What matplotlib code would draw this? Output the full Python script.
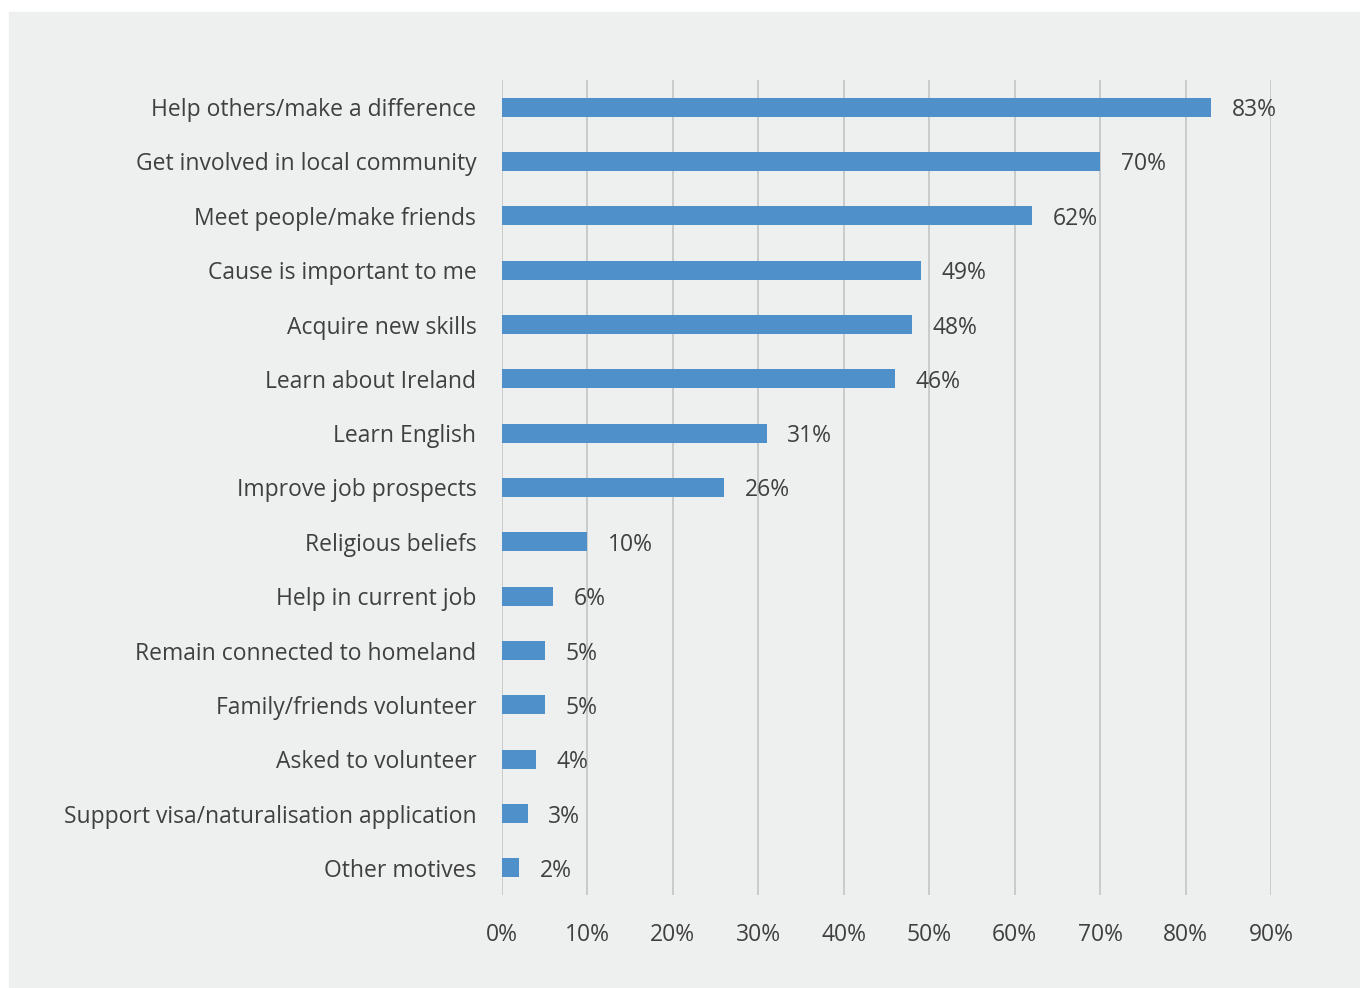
import matplotlib.pyplot as plt
from matplotlib.patches import Rectangle
from matplotlib.transforms import ScaledTranslation

categories = [
    "Help others/make a difference",
    "Get involved in local community",
    "Meet people/make friends",
    "Cause is important to me",
    "Acquire new skills",
    "Learn about Ireland",
    "Learn English",
    "Improve job prospects",
    "Religious beliefs",
    "Help in current job",
    "Remain connected to homeland",
    "Family/friends volunteer",
    "Asked to volunteer",
    "Support visa/naturalisation application",
    "Other motives",
]
values = [83, 70, 62, 49, 48, 46, 31, 26, 10, 6, 5, 5, 4, 3, 2]
x_ticks = [0, 10, 20, 30, 40, 50, 60, 70, 80, 90]

BG = "#eeefef"
BAR = "#4f8fca"
TEXT = "#404040"
GRID = "#cacaca"

plt.rcParams["font.family"] = ["Open Sans", "DejaVu Sans"]

fig = plt.figure(figsize=(13.6, 9.88), dpi=100, facecolor="white")
# gray panel behind the chart
fig.add_artist(Rectangle((9 / 1360, 0), 1, 1 - 12 / 988,
                         transform=fig.transFigure, color=BG, zorder=-10))

ax = fig.add_axes([502 / 1360, 1 - 895 / 988, 769 / 1360, 815 / 988])
ax.patch.set_alpha(0)

# nudge text a few pixels down, like the original
down = ScaledTranslation(0, -3 / 100, fig.dpi_scale_trans)

pos = list(range(len(categories)))
ax.barh(pos, values, height=0.35, color=BAR, zorder=3)

for p, v in zip(pos, values):
    ax.text(v + 2.4, p, f"{v}%", va="center", ha="left",
            fontsize=16.5, color=TEXT, zorder=4,
            transform=ax.transData + down)

ax.set_xlim(0, 90)
ax.set_ylim(len(categories) - 0.5, -0.5)
ax.set_xticks(x_ticks)
ax.set_xticklabels([f"{t}%" for t in x_ticks], fontsize=16.5, color=TEXT)
ax.set_yticks(pos)
ax.set_yticklabels(categories, fontsize=16.5, color=TEXT)
for lbl in ax.get_yticklabels():
    lbl.set_transform(lbl.get_transform() + down)
ax.tick_params(axis="both", length=0)
ax.tick_params(axis="x", pad=20)
ax.tick_params(axis="y", pad=18.5)

ax.grid(axis="x", color=GRID, linewidth=1.4, zorder=0)
for s in ax.spines.values():
    s.set_visible(False)

fig.savefig("out.png", dpi=100, facecolor=fig.get_facecolor())
